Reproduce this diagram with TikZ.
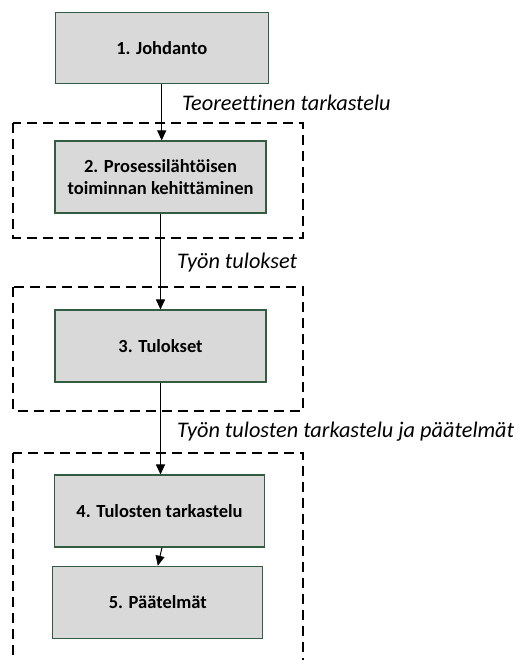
\documentclass[tikz,border=0pt]{standalone}
\usepackage{fontspec}
\setmainfont{Carlito}[Ligatures=NoCommon]
\usetikzlibrary{arrows.meta}
\definecolor{boxfill}{HTML}{D9D9D9}
\definecolor{boxline}{HTML}{335C42}
\tikzset{
  stage/.style={draw=boxline, fill=boxfill, line width=1.1pt, minimum width=211pt,
    minimum height=72pt, inner sep=0pt, align=center,
    font=\fontsize{18.5}{22}\selectfont\bfseries},
  flow/.style={line width=1pt, -{Triangle[width=9pt,length=10pt]}},
  group/.style={dashed, dash pattern=on 10pt off 6pt, line width=1.8pt},
  note/.style={anchor=west, inner sep=0pt, font=\fontsize{22.3}{24}\selectfont\itshape}
}
\begin{document}
\begin{tikzpicture}[x=1pt, y=-1pt]
  \useasboundingbox (0,0) rectangle (516,660);
  \clip (0,0) rectangle (516,660);
  % dashed groupings
  \draw[group] (13.3,123.3) rectangle (302.7,237.7);
  \draw[group] (13.3,287.3) rectangle (302.7,411);
  \draw[group] (13.3,453.3) rectangle (302.7,680);
  % stages
  \node[stage, minimum width=213pt, minimum height=71pt] (b1) at (161.7,47.7) {1. Johdanto};
  \node[stage] (b2) at (160.5,177) {2. Prosessilähtöisen\\toiminnan kehittäminen};
  \node[stage] (b3) at (160.5,346) {3. Tulokset};
  \node[stage, minimum width=210pt] (b4) at (159.5,511) {4. Tulosten tarkastelu};
  \node[stage, minimum width=210pt] (b5) at (157.8,602.3) {5. Päätelmät};
  % connectors
  \draw[flow] (b1.south) -- (b1.south |- b2.north);
  \draw[flow] (b2.south) -- (b2.south |- b3.north);
  \draw[flow] (b3.south) -- (b3.south |- b4.north);
  \draw[flow] ([xshift=2.5pt]b4.south) -- (b5.north);
  % transition labels
  \node[note] (t1) at (182,103) {Teoreettinen tarkastelu};
  \node[note] (t2) at (177,263) {Työn tulokset};
  \node[note] (t3) at (177,432) {Työn tulosten tarkastelu ja päätelmät};
\end{tikzpicture}
\end{document}
